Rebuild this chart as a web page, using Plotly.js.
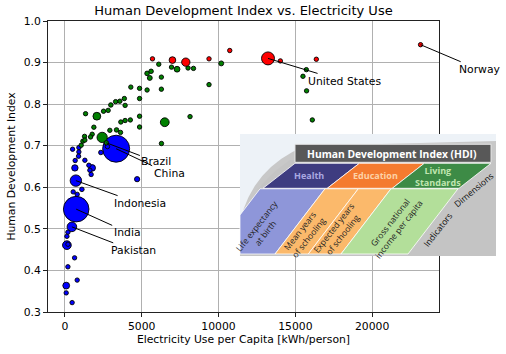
<!DOCTYPE html>
<html><head><meta charset="utf-8">
<script src="https://cdn.plot.ly/plotly-3.0.1.min.js"></script>
<style>html,body{margin:0;padding:0;background:#fff}#chart{width:506px;height:354px}</style>
</head><body><div id="chart"></div>
<script>
// ---- data: electricity use per capita (kWh/person), HDI, population (millions)
const elec = [13220,7000,7870,10730,14025,16365,23150,5700,9380,
  6110,6940,7300,8015,8370,10175,5350,5610,5525,6280,9380,4290,4860,5350,6280,
  3870,3575,3300,2990,3920,2515,2815,2080,1345,4860,4860,8145,6500,3640,3920,4260,
  4860,3360,3620,2925,1885,2425,2700,1280,1170,1300,1775,1670,1060,6285,15715,15495,15730,16105,
  3335,2770,2340,500,910,910,890,670,650,1775,1625,1710,1560,1300,715,4700,1105,540,800,
  735,455,195,130,130,200,630,195,800,85,85,470];
const hdi = [0.910,0.906,0.901,0.929,0.904,0.908,0.943,0.909,0.909,
  0.896,0.889,0.884,0.887,0.886,0.898,0.874,0.879,0.863,0.865,0.847,0.841,0.838,0.834,0.836,
  0.8135,0.807,0.806,0.798,0.797,0.783,0.785,0.771,0.777,0.8135,0.771,0.770,0.7565,0.757,0.7606,0.762,
  0.745,0.738,0.732,0.737,0.7445,0.720,0.707,0.7225,0.711,0.7135,0.7276,0.721,0.7012,0.7053,0.883,0.867,0.832,0.762,
  0.6928,0.698,0.6837,0.6916,0.6955,0.6851,0.6748,0.6644,0.6466,0.6466,0.641,0.6308,0.653,0.665,0.616,0.6195,0.595,0.589,0.583,
  0.5474,0.5048,0.492,0.482,0.4608,0.463,0.4303,0.4087,0.3767,0.3635,0.346,0.3226];
const pop = [310,82,127,22,12,34,5,4,4,
  3,3,62,24,20,45,40,38,45,14,4,2,2,3,2,
  34,22,3,38,3,26,3,112,12,9,9,24,142,9,9,30,
  18,38,22,9,3,195,30,14,26,7,7,7,9,2,3,3,3,3,
  1340,18,38,18,11,3,3,14,75,80,9,3,7,2,240,50,38,3,18,
  1200,170,26,11,140,16,12,24,9,85,2,20];

// ---- labelled countries
const labelCountry = ['Norway','United States','Brazil','China','Indonesia','India','Pakistan'];
const labelElec = [23150,13220,2700,3335,715,735,455];
const labelHdi = [0.943,0.910,0.707,0.6928,0.616,0.5474,0.5048];

// ---- styling / layout configuration
const labelOffset = [[59,25],[76,23],[50,19],[53,25],[64,23],[51,23],[62,24]];
const groups = [
  {name:'low', color:'#0000ff', test:v=>v<0.7},
  {name:'high', color:'#008000', test:v=>v>=0.7 && v<0.9},
  {name:'very high', color:'#ff0000', test:v=>v>=0.9}
];
const FONT = 'DejaVu Sans';
const maxPop = Math.max(...pop);
const sizeref = 2*maxPop/(27*27);

const traces = groups.map(g=>{
  const idx = hdi.map((v,i)=>i).filter(i=>g.test(hdi[i])).sort((a,b)=>pop[b]-pop[a]);
  return {
    type:'scatter', mode:'markers', name:g.name,
    x: idx.map(i=>elec[i]), y: idx.map(i=>hdi[i]),
    marker:{size: idx.map(i=>pop[i]), sizemode:'area', sizeref:sizeref, sizemin:2.2,
      color:g.color, opacity:1, line:{color:'#000', width:0.9}},
    hoverinfo:'skip', showlegend:false
  };
});

// ---- inset diagram (pixel geometry -> paper fractions)
const M = {l:48, r:67, t:21, b:42};
const PW = 506 - M.l - M.r, PH = 354 - M.t - M.b;
function P(x,y){ return ((x-M.l)/PW).toFixed(4)+','+((M.t+PH-y)/PH).toFixed(4); }
function px(x){ return (x-M.l)/PW; }
function py(y){ return (M.t+PH-y)/PH; }
function poly(pts){ return 'M'+pts.map(p=>P(p[0],p[1])).join('L')+'Z'; }
function shp(path, fill, lc, lw){
  return {type:'path', xref:'paper', yref:'paper', path:path, fillcolor:fill,
    line:{color:lc||fill, width:lw===undefined?0:lw}, layer:'above'};
}
const shapes = [
  shp(poly([[240,134],[496,134],[496,256],[240,256]]), '#edf2f7'),
  shp('M'+P(240,256)+'L'+P(240,222)+'Q'+P(252,168)+' '+P(305,146)+'L'+P(496,141)+'L'+P(496,256)+'Z', '#c8c8c8'),
  shp('M'+P(240,256)+'L'+P(240,232)+'Q'+P(246,190)+' '+P(290,160)+'L'+P(496,160)+'L'+P(496,256)+'Z', '#c4c4c4'),
  shp(poly([[295,144.3],[491,144.3],[491,162.3],[295,162.3]]), '#585858', '#e6e6e6', 1),
  shp(poly([[295,163.3],[359.3,163.3],[327.3,188.3],[263,188.3]]), '#3e3c80', '#ffffff', 0.8),
  shp(poly([[359.3,163.3],[424.3,163.3],[392.3,188.3],[327.3,188.3]]), '#f47b2f', '#ffffff', 0.8),
  shp(poly([[424.3,163.3],[491,163.3],[459,188.3],[392.3,188.3]]), '#3d8b46', '#ffffff', 0.8),
  shp(poly([[260,188.8],[325,188.8],[275,254],[240,254],[240,215]]), '#8e96d9', '#ffffff', 0.8),
  shp(poly([[325,188.8],[358.3,188.8],[308.3,254],[275,254]]), '#fbb96b', '#ffffff', 0.8),
  shp(poly([[358.3,188.8],[391,188.8],[341,254],[308.3,254]]), '#fbb96b', '#ffffff', 0.8),
  shp(poly([[391,188.8],[458,188.8],[408,254],[341,254]]), '#b3df9a', '#ffffff', 0.8)
];
function txt(x,y,text,opts){
  return Object.assign({xref:'paper', yref:'paper', x:px(x), y:py(y), text:text, showarrow:false,
    xanchor:'center', yanchor:'middle'}, opts);
}
const IF = 'Open Sans';
const insetText = [
  txt(392,153.5,'<b>Human Development Index (HDI)</b>',{font:{family:IF,size:10.3,color:'#ffffff'}}),
  txt(308.5,175.5,'<b>Health</b>',{font:{family:IF,size:9,color:'#a9a8e0'}}),
  txt(375,175.5,'<b>Education</b>',{font:{family:IF,size:9,color:'#fdd2a6'}}),
  txt(438,176,'<b>Living<br>Standards</b>',{font:{family:IF,size:9,color:'#c0e6b0'}}),
  txt(261,229,'Life expectancy<br>at birth',{textangle:-52,font:{family:IF,size:8.5,color:'#222'}}),
  txt(304,234,'Mean years<br>of schooling',{textangle:-52,font:{family:IF,size:8.5,color:'#222'}}),
  txt(338,231,'Expected years<br>of schooling',{textangle:-52,font:{family:IF,size:8.5,color:'#222'}}),
  txt(394,226,'Gross national<br>income per capita',{textangle:-52,font:{family:IF,size:8.5,color:'#222'}}),
  txt(438,230,'Indicators',{textangle:-52,font:{family:IF,size:8.7,color:'#111'}}),
  txt(474,190,'Dimensions',{textangle:-40,font:{family:IF,size:8.7,color:'#111'}})
];

const countryNotes = labelCountry.map((c,i)=>({
  x: labelElec[i], y: labelHdi[i], xref:'x', yref:'y', text:c,
  showarrow:true, arrowhead:0, arrowwidth:1, arrowcolor:'#000',
  ax: labelOffset[i][0], ay: labelOffset[i][1], standoff:0,
  font:{family:FONT, size:10.8, color:'#000'}
}));

const axisCommon = {
  showgrid:true, gridcolor:'#b0b0b0', gridwidth:1, zeroline:false,
  showline:true, linecolor:'#222', linewidth:1, mirror:true,
  ticks:'outside', ticklen:4, tickwidth:1, tickcolor:'#222',
  tickfont:{family:FONT, size:10.8, color:'#000'}
};
const layout = {
  width:506, height:354, margin:M,
  paper_bgcolor:'#fff', plot_bgcolor:'#fff',
  font:{family:FONT, color:'#000'},
  title:{text:'Human Development Index vs. Electricity Use', x:0.5, xref:'paper', xanchor:'center',
    y:1-10/354, yref:'container', yanchor:'middle', font:{family:FONT, size:13, color:'#000'}},
  xaxis:Object.assign({}, axisCommon, {range:[-1100,24350], tickvals:[0,5000,10000,15000,20000], tickformat:'d',
    title:{text:'Electricity Use per Capita [kWh/person]', font:{family:FONT,size:10.8,color:'#000'}, standoff:3}}),
  yaxis:Object.assign({}, axisCommon, {range:[0.3,1.0], dtick:0.1, tick0:0.3, tickformat:'.1f',
    title:{text:'Human Development Index', font:{family:FONT,size:10.8,color:'#000'}, standoff:5}}),
  shapes:shapes,
  annotations: countryNotes.concat(insetText),
  showlegend:false
};
Plotly.newPlot('chart', traces, layout, {staticPlot:true, displayModeBar:false});
</script></body></html>
